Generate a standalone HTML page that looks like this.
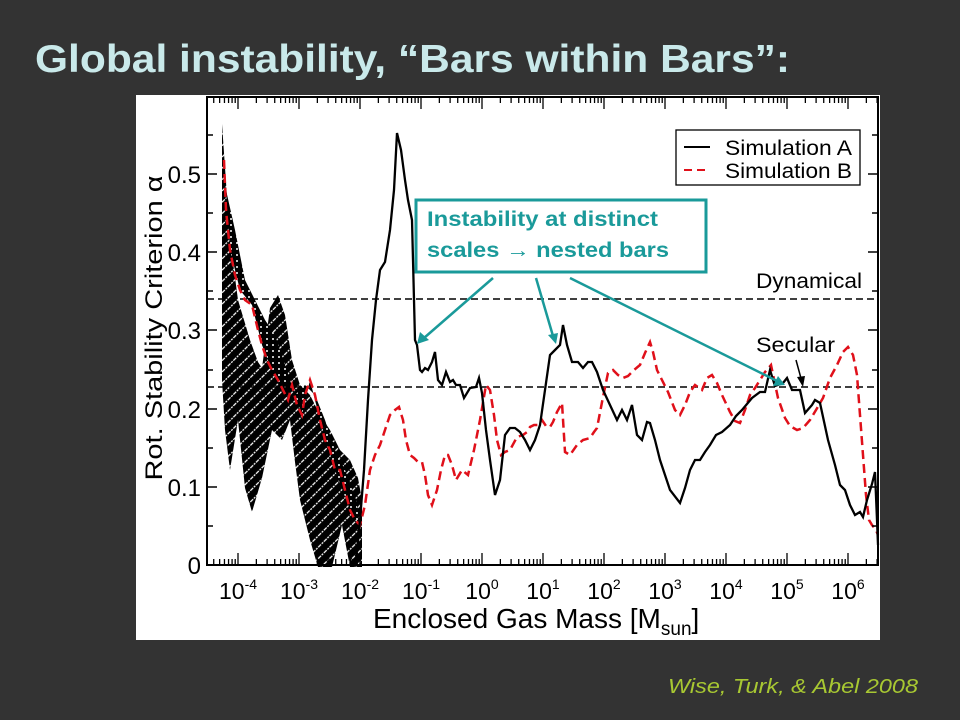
<!DOCTYPE html>
<html><head><meta charset="utf-8"><style>
html,body{margin:0;padding:0;background:#333333;}
body{width:960px;height:720px;position:relative;overflow:hidden;font-family:"Liberation Sans",sans-serif;}
</style></head><body>
<svg width="960" height="720" viewBox="0 0 960 720" xmlns="http://www.w3.org/2000/svg" style="position:absolute;left:0;top:0">
<defs>
<pattern id="hatch" patternUnits="userSpaceOnUse" width="8" height="8" patternTransform="rotate(-45)">
<rect width="8" height="8" fill="#000"/><line x1="0" y1="4" x2="8" y2="4" stroke="#fff" stroke-width="1.2" stroke-dasharray="2,1"/>
</pattern>
<pattern id="dots" patternUnits="userSpaceOnUse" width="6" height="6">
<rect width="6" height="6" fill="#000"/><circle cx="3" cy="3" r="1" fill="#fff"/>
</pattern>
</defs>
<text x="35" y="72" font-family="Liberation Sans" font-weight="bold" font-size="39" fill="#c9e9ea" textLength="755" lengthAdjust="spacingAndGlyphs">Global instability, “Bars within Bars”:</text>
<rect x="136" y="95" width="744" height="545" fill="#fff"/>
<polygon fill="url(#hatch)" points="222,124 230,240 238,300 250,340 258,362 262,368 270,308 278,295 285,315 292,360 300,385 310,395 320,415 330,430 340,450 350,460 358,478 362,500 362,567 350,567 342,525 332,567 318,567 310,540 300,500 295,462 290,420 282,440 272,430 262,478 252,512 245,488 238,420 230,470 225,430 222,380"/>
<polygon fill="url(#dots)" points="224,160 230,250 240,290 252,305 262,345 272,370 283,392 292,385 302,415 310,380 320,420 335,470 350,510 360,525 356,500 345,470 335,450 325,420 315,395 305,385 295,395 285,365 275,335 265,320 255,300 245,280 235,230 226,190"/>
<line x1="207" y1="299" x2="878" y2="299" stroke="#000" stroke-width="1.5" stroke-dasharray="7,4"/>
<line x1="207" y1="387" x2="878" y2="387" stroke="#000" stroke-width="1.5" stroke-dasharray="7,4"/>
<polyline fill="none" stroke="#e0101a" stroke-width="2.5" stroke-dasharray="9,5" points="224,160 226,210 230,250 235,275 240,290 245,300 252,305 258,330 262,345 267,360 272,370 278,380 283,390 288,400 292,385 297,405 302,415 305,395 310,380 315,395 320,420 325,440 330,450 335,470 340,470 345,490 350,510 355,520 360,525 365,505 370,470 375,455 380,445 385,430 390,415 395,410 399,407 403,420 406,440 410,455 414,458 418,462 422,462 425,475 428,495 432,505 437,490 441,470 445,455 448,455 452,465 456,480 462,470 468,475 474,450 480,420 486,385 490,390 494,415 497,440 501,455 505,452 510,450 517,437 523,435 527,432 530,427 534,425 538,425 542,420 546,426 550,427 553,422 557,412 562,403 565,452 570,455 577,445 583,440 590,438 594,432 597,428 603,397 608,373 613,370 618,375 623,378 628,376 634,370 640,365 645,353 650,342 653,352 657,370 662,380 668,392 675,410 680,415 685,405 690,392 695,385 702,390 707,378 712,375 717,383 722,395 730,412 735,421 740,423 745,410 750,395 755,388 760,380 765,372 771,365 778,398 785,418 790,426 797,430 803,428 810,420 816,410 823,398 830,378 837,365 843,352 848,347 853,355 857,375 860,415 863,455 866,495 869,520 872,525 876,530 878,535"/>
<polyline fill="none" stroke="#000" stroke-width="2.3" points="356,560 360,520 364,470 368,400 372,340 376,300 380,270 385,262 390,230 394,190 397,133 401,150 405,180 408,200 412,220 414,300 415,340 417,345 420,370 422,372 425,368 428,370 432,362 435,352 438,380 442,385 446,372 450,382 453,380 456,385 460,385 464,398 470,388 476,387 479,378 482,393 486,430 490,460 495,495 500,480 505,435 510,428 515,428 520,432 525,440 530,450 535,440 540,425 545,390 550,355 555,350 560,345 563,325 567,345 572,362 578,362 583,368 588,362 592,362 597,372 603,390 610,405 617,420 622,410 627,420 632,405 637,435 642,440 647,422 650,423 655,440 660,460 670,490 680,503 685,488 690,470 695,460 700,460 705,452 710,445 716,435 722,432 730,425 736,416 742,410 752,398 760,392 765,392 770,370 775,386 783,383 787,378 792,390 800,390 805,413 812,405 815,400 820,403 828,440 835,465 840,485 845,490 850,505 855,515 860,512 863,517 867,500 872,484 875,472 877,520 878,545"/>
<rect x="207" y="97" width="671" height="468" fill="none" stroke="#000" stroke-width="2"/>
<g stroke="#000" stroke-width="1.5">
<line x1="207" y1="565" x2="217" y2="565"/><line x1="207" y1="487" x2="217" y2="487"/><line x1="207" y1="409" x2="217" y2="409"/><line x1="207" y1="330" x2="217" y2="330"/><line x1="207" y1="252" x2="217" y2="252"/><line x1="207" y1="174" x2="217" y2="174"/>
<line x1="207" y1="526" x2="213" y2="526"/><line x1="207" y1="448" x2="213" y2="448"/><line x1="207" y1="370" x2="213" y2="370"/><line x1="207" y1="291" x2="213" y2="291"/><line x1="207" y1="213" x2="213" y2="213"/><line x1="207" y1="135" x2="213" y2="135"/>
<line x1="878" y1="565" x2="868" y2="565"/><line x1="878" y1="487" x2="868" y2="487"/><line x1="878" y1="409" x2="868" y2="409"/><line x1="878" y1="330" x2="868" y2="330"/><line x1="878" y1="252" x2="868" y2="252"/><line x1="878" y1="174" x2="868" y2="174"/>
<line x1="878" y1="526" x2="872" y2="526"/><line x1="878" y1="448" x2="872" y2="448"/><line x1="878" y1="370" x2="872" y2="370"/><line x1="878" y1="291" x2="872" y2="291"/><line x1="878" y1="213" x2="872" y2="213"/><line x1="878" y1="135" x2="872" y2="135"/>
</g>
<g id="xt" stroke="#000" stroke-width="1.3"></g>
<g font-family="Liberation Sans" font-size="24" fill="#000" text-anchor="end">
<text x="201" y="574">0</text><text x="201" y="496">0.1</text><text x="201" y="418">0.2</text><text x="201" y="339">0.3</text><text x="201" y="261">0.4</text><text x="201" y="183">0.5</text>
</g>
<text transform="translate(162,328) rotate(-90)" text-anchor="middle" font-family="Liberation Sans" font-size="24" fill="#000" textLength="305" lengthAdjust="spacingAndGlyphs">Rot. Stability Criterion  α</text>
<g font-family="Liberation Sans" font-size="23" fill="#000" text-anchor="middle" id="xl"></g>
<text x="373" y="628" font-family="Liberation Sans" font-size="28" fill="#000">Enclosed Gas Mass [M<tspan font-size="19" dy="7">sun</tspan><tspan dy="-7">]</tspan></text>
<rect x="676" y="130" width="184" height="55" fill="#fff" stroke="#000" stroke-width="1.3"/>
<line x1="684" y1="147" x2="710" y2="147" stroke="#000" stroke-width="2"/>
<line x1="684" y1="170" x2="710" y2="170" stroke="#e0101a" stroke-width="2" stroke-dasharray="8,5"/>
<text x="725" y="155" font-family="Liberation Sans" font-size="21" fill="#000" textLength="127" lengthAdjust="spacingAndGlyphs">Simulation A</text>
<text x="725" y="178" font-family="Liberation Sans" font-size="21" fill="#000" textLength="127" lengthAdjust="spacingAndGlyphs">Simulation B</text>
<text x="756" y="288" font-family="Liberation Sans" font-size="21" fill="#000" textLength="106" lengthAdjust="spacingAndGlyphs">Dynamical</text>
<text x="756" y="352" font-family="Liberation Sans" font-size="21" fill="#000" textLength="79" lengthAdjust="spacingAndGlyphs">Secular</text>
<line x1="796" y1="360" x2="802" y2="382" stroke="#000" stroke-width="1.5"/>
<polygon points="803,387 797,377 805,376" fill="#000"/>
<rect x="416" y="200" width="290" height="72" fill="#fff" stroke="#1a9a9a" stroke-width="3"/>
<text x="427" y="226" font-family="Liberation Sans" font-weight="bold" font-size="21" fill="#1a9a9a" textLength="231" lengthAdjust="spacingAndGlyphs">Instability at distinct</text>
<text x="427" y="257" font-family="Liberation Sans" font-weight="bold" font-size="21" fill="#1a9a9a" textLength="242" lengthAdjust="spacingAndGlyphs">scales → nested bars</text>
<g stroke="#1a9a9a" stroke-width="2.5" fill="#1a9a9a">
<line x1="493" y1="278" x2="424" y2="338"/><polygon points="417,344 420,332 429,340" stroke="none"/>
<line x1="536" y1="278" x2="553" y2="336"/><polygon points="556,344 548,335 558,333" stroke="none"/>
<line x1="570" y1="278" x2="777" y2="381"/><polygon points="785,385 773,386 778,376" stroke="none"/>
</g>
<text x="918" y="693" text-anchor="end" font-family="Liberation Sans" font-style="italic" font-size="20" fill="#a8c832" textLength="250" lengthAdjust="spacingAndGlyphs">Wise, Turk, &amp; Abel 2008</text>
</svg>
<script>
(function(){
var ns="http://www.w3.org/2000/svg",g=document.getElementById('xt'),xl=document.getElementById('xl');
function ln(x1,y1,x2,y2){var l=document.createElementNS(ns,'line');l.setAttribute('x1',x1);l.setAttribute('y1',y1);l.setAttribute('x2',x2);l.setAttribute('y2',y2);g.appendChild(l);}
var x0=238,d=61;
for(var e=-5;e<=6;e++){
  var xb=x0+(e+4)*d;
  if(xb>=207&&xb<=878){ln(xb,565,xb,553);ln(xb,97,xb,109);}
  for(var k=2;k<=9;k++){var x=xb+Math.log10(k)*d;if(x>207&&x<878){ln(x,565,x,559);ln(x,97,x,103);}}
  if(e>=-4){var t=document.createElementNS(ns,'text');t.setAttribute('x',xb);t.setAttribute('y',599);
   t.innerHTML='10<tspan font-size="14" dy="-10">'+e+'</tspan>';xl.appendChild(t);}
}
})();
</script>
</body></html>
